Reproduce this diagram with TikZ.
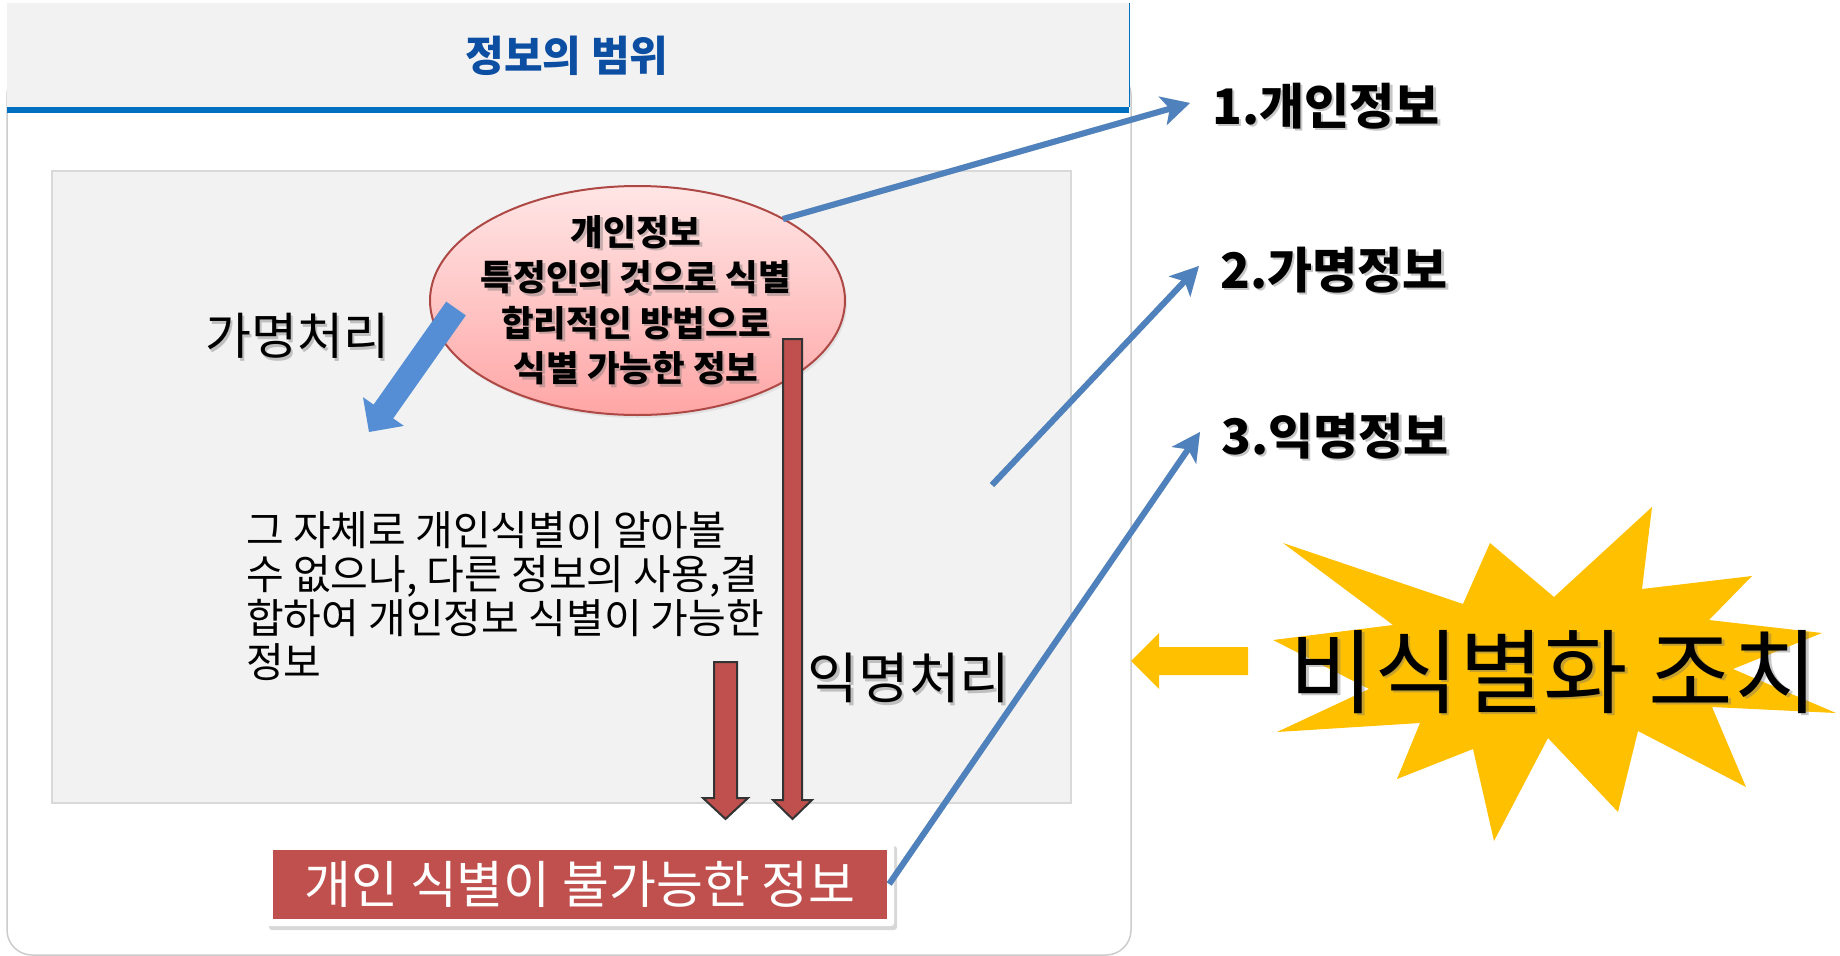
\documentclass[tikz,border=0pt]{standalone}
\usepackage{fontspec}
\newfontfamily\kr{Noto Sans CJK KR}
\usetikzlibrary{arrows.meta,shapes.geometric,shadows}
\definecolor{arrowblue}{HTML}{4F81BD}
\definecolor{thickblue}{HTML}{558ED5}
\definecolor{redc}{HTML}{C0504D}
\definecolor{yel}{HTML}{FFC000}
\definecolor{hdrblue}{HTML}{0070C0}
\definecolor{titleblue}{HTML}{0B4EA2}
\definecolor{panel}{HTML}{F2F2F2}
\begin{document}
\begin{tikzpicture}[x=1pt,y=-1pt,
  thinarrow/.style={draw=arrowblue, line width=6pt, -{Stealth[length=28pt,width=29pt,inset=7pt]}},
  arrowshadow/.style={draw=black, opacity=0.18, xshift=2pt, yshift=-3pt},
  redarrow/.style={fill=redc, draw=black!80, line width=2pt, line join=miter},
  txtshadow/.style={text=black!55, opacity=0.4, xshift=2.5pt, yshift=-2.5pt},
  lbl/.style={font=\kr\bfseries\fontsize{49}{53}\selectfont, inner sep=0pt},
  procA/.style={font=\kr\fontsize{50}{54}\selectfont, inner sep=0pt},
  procB/.style={font=\kr\fontsize{55}{59}\selectfont, inner sep=0pt}
]
\useasboundingbox (0,0) rectangle (1840,956);
\fill[white] (0,0) rectangle (1840,956);

% outer frame
\draw[draw=black!20, line width=1.5pt, fill=white, rounded corners=25pt] (7,70) rectangle (1131,955);
% header
\fill[panel] (7,3) rectangle (1129,107);
\draw[hdrblue, line width=1pt] (1129,3) -- (1129,107);
\fill[hdrblue] (7,107) rectangle (1129,113);
\node[font=\kr\bfseries\fontsize{42}{46}\selectfont, text=titleblue, inner sep=0pt] (title) at (567,56) {정보의 범위};

% inner panel
\draw[fill=panel, draw=black!15, line width=2pt] (52,171) rectangle (1071,803);

% ellipse
\node[ellipse, minimum width=415, minimum height=229, inner sep=0pt, draw=redc!90!black, line width=2pt,
      top color=red!10, bottom color=red!35!white, drop shadow={shadow xshift=2pt, shadow yshift=-3pt, opacity=0.15}] (ell) at (637.5,300.5) {};
\node[font=\kr\bfseries\fontsize{35.5}{45.5}\selectfont, align=center, inner sep=0pt, txtshadow] (ellts) at (636,300) {개인정보\\특정인의 것으로 식별\\합리적인 방법으로\\식별 가능한 정보};
\node[font=\kr\bfseries\fontsize{35.5}{45.5}\selectfont, align=center, inner sep=0pt] (ellt) at (636,300) {개인정보\\특정인의 것으로 식별\\합리적인 방법으로\\식별 가능한 정보};

% thick blue arrow (pseudonymisation)
\fill[thickblue] (465.8,315.4) -- (446.2,301.6) -- (373.6,404.6) -- (363,397.2) -- (369,432) -- (403.9,425.9) -- (393.2,418.4) -- cycle;
\node[procA, txtshadow] (gms) at (297,336) {가명처리};
\node[procA] (gm) at (297,336) {가명처리};

% paragraph
\node[font=\kr\fontsize{41}{44}\selectfont, align=left, anchor=north west, inner sep=0pt] (para) at (246,511)
  {그 자체로 개인식별이 알아볼\\수 없으나, 다른 정보의 사용,결\\합하여 개인정보 식별이 가능한\\정보};

% red arrows
\filldraw[redarrow] (714,662) -- (737,662) -- (737,798) -- (748,798) -- (725.5,819) -- (703,798) -- (714,798) -- cycle;
\filldraw[redarrow] (783,339) -- (802,339) -- (802,800) -- (812,800) -- (792.5,819) -- (773,800) -- (783,800) -- cycle;
\node[procB, txtshadow] (ims) at (909,678) {익명처리};
\node[procB] (im) at (909,678) {익명처리};

% red result box
\node[fill=white, rounded corners=3pt, minimum width=628, minimum height=84, inner sep=0pt,
      drop shadow={shadow xshift=3pt, shadow yshift=-4pt, opacity=0.3}] (rbf) at (580,884) {};
\node[fill=redc, minimum width=614, minimum height=69, inner sep=0pt, text=white,
      font=\kr\fontsize{51}{55}\selectfont] (rb) at (580,884) {개인 식별이 불가능한 정보};

% right labels
\node[lbl, txtshadow] (t1s) at (1326,106) {1.개인정보};
\node[lbl] (t1) at (1326,106) {1.개인정보};
\node[lbl, txtshadow] (t2s) at (1334,270) {2.가명정보};
\node[lbl] (t2) at (1334,270) {2.가명정보};
\node[lbl, txtshadow] (t3s) at (1335,436) {3.익명정보};
\node[lbl] (t3) at (1335,436) {3.익명정보};

% thin blue arrows
\coordinate (a1s) at (783,219);
\coordinate (a1e) at (1190,103);
\coordinate (a2s) at (992,485);
\coordinate (a2e) at (1199,266);
\coordinate (a3s) at (rb.east);
\coordinate (a3e) at (1200,432);
\draw[thinarrow, arrowshadow] (a1s) -- (a1e);
\draw[thinarrow, arrowshadow] (a2s) -- (a2e);
\draw[thinarrow, arrowshadow] ([xshift=2pt]a3s) -- (a3e);
\draw[thinarrow] (a1s) -- (a1e);
\draw[thinarrow] (a2s) -- (a2e);
\draw[thinarrow] ([xshift=2pt]a3s) -- (a3e);

% star
\fill[yel] (1283,543) -- (1463,604) -- (1490,543) -- (1554,597) -- (1652,507) -- (1642,589) -- (1752,576) -- (1709,620) -- (1822,633) -- (1733,669) -- (1836,713) -- (1712,707) -- (1746,787) -- (1638,731) -- (1618,812) -- (1548,738) -- (1494,841) -- (1473,749) -- (1397,779) -- (1420,723) -- (1277,732) -- (1369,689) -- (1273,640) -- (1393,625) -- cycle;
\node[font=\kr\fontsize{92}{96}\selectfont, inner sep=0pt, txtshadow] (sts) at (1554,672) {비식별화 조치};
\node[font=\kr\fontsize{92}{96}\selectfont, inner sep=0pt] (st) at (1554,672) {비식별화 조치};

% yellow arrow
\fill[yel] (1131,661) -- (1159,633) -- (1159,647) -- (1248,647) -- (1248,675) -- (1159,675) -- (1159,689) -- cycle;
\end{tikzpicture}
\end{document}
